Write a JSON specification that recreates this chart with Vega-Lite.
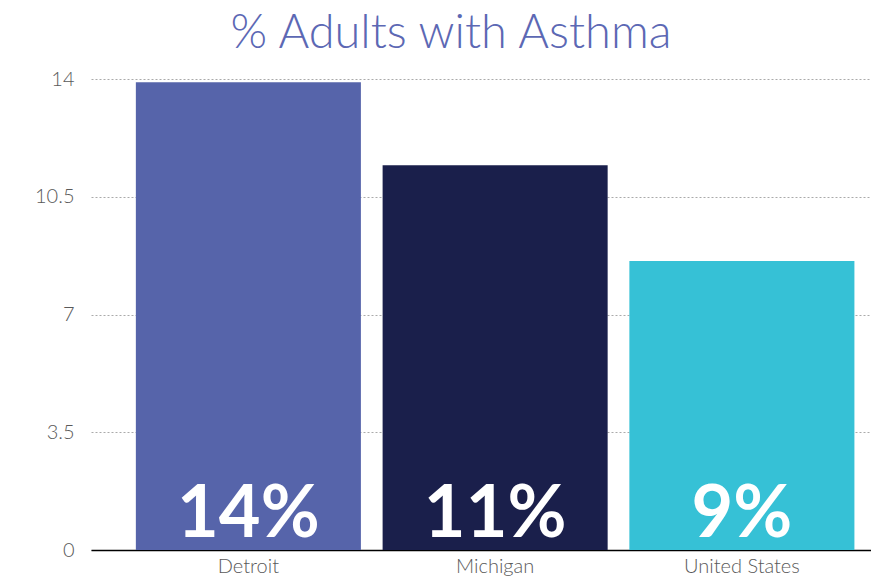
{
  "$schema": "https://vega.github.io/schema/vega-lite/v6.json",
  "autosize": "none",
  "width": 780,
  "height": 471,
  "padding": {"left": 91, "top": 79, "right": 0, "bottom": 30},
  "background": "white",
  "title": {
    "text": "% Adults with Asthma",
    "font": "Lato",
    "fontWeight": 300,
    "fontSize": 47,
    "color": "#5c68b4",
    "anchor": "middle",
    "dx": -30,
    "offset": 11
  },
  "config": {
    "view": {"stroke": null},
    "axis": {"labelFont": "Lato", "labelFontWeight": 300}
  },
  "data": {
    "values": [
      {"region": "Detroit", "value": 13.9, "label": "14%"},
      {"region": "Michigan", "value": 11.44, "label": "11%"},
      {"region": "United States", "value": 8.59, "label": "9%"}
    ]
  },
  "encoding": {
    "x": {
      "field": "region",
      "type": "nominal",
      "sort": null,
      "scale": {"paddingInner": 0.088, "paddingOuter": 0.1245, "align": 0.73},
      "axis": {
        "title": null,
        "labelAngle": 0,
        "labelFontSize": 20,
        "labelColor": "#5a5a5a",
        "labelPadding": 6,
        "ticks": false,
        "domainColor": "#000000",
        "domainWidth": 1.5
      }
    }
  },
  "layer": [
    {
      "mark": {"type": "bar"},
      "encoding": {
        "y": {
          "field": "value",
          "type": "quantitative",
          "scale": {"domain": [0, 14], "nice": false},
          "axis": {
            "title": null,
            "values": [0, 3.5, 7, 10.5, 14],
            "format": ".1~f",
            "labelFontSize": 20,
            "labelColor": "#5a5a5a",
            "labelPadding": 17,
            "ticks": false,
            "domain": false,
            "gridColor": "#aaaaaa",
            "gridDash": [2, 2],
            "gridWidth": 1
          }
        },
        "color": {
          "field": "region",
          "type": "nominal",
          "scale": {
            "domain": ["Detroit", "Michigan", "United States"],
            "range": ["#5664aa", "#1a1f4b", "#36c1d6"]
          },
          "legend": null
        }
      }
    },
    {
      "mark": {
        "type": "text",
        "font": "Lato",
        "fontWeight": "bold",
        "fontSize": 72,
        "color": "white",
        "baseline": "alphabetic",
        "align": "center",
        "dy": -13
      },
      "encoding": {
        "y": {"datum": 0, "type": "quantitative"},
        "text": {"field": "label"}
      }
    }
  ]
}
